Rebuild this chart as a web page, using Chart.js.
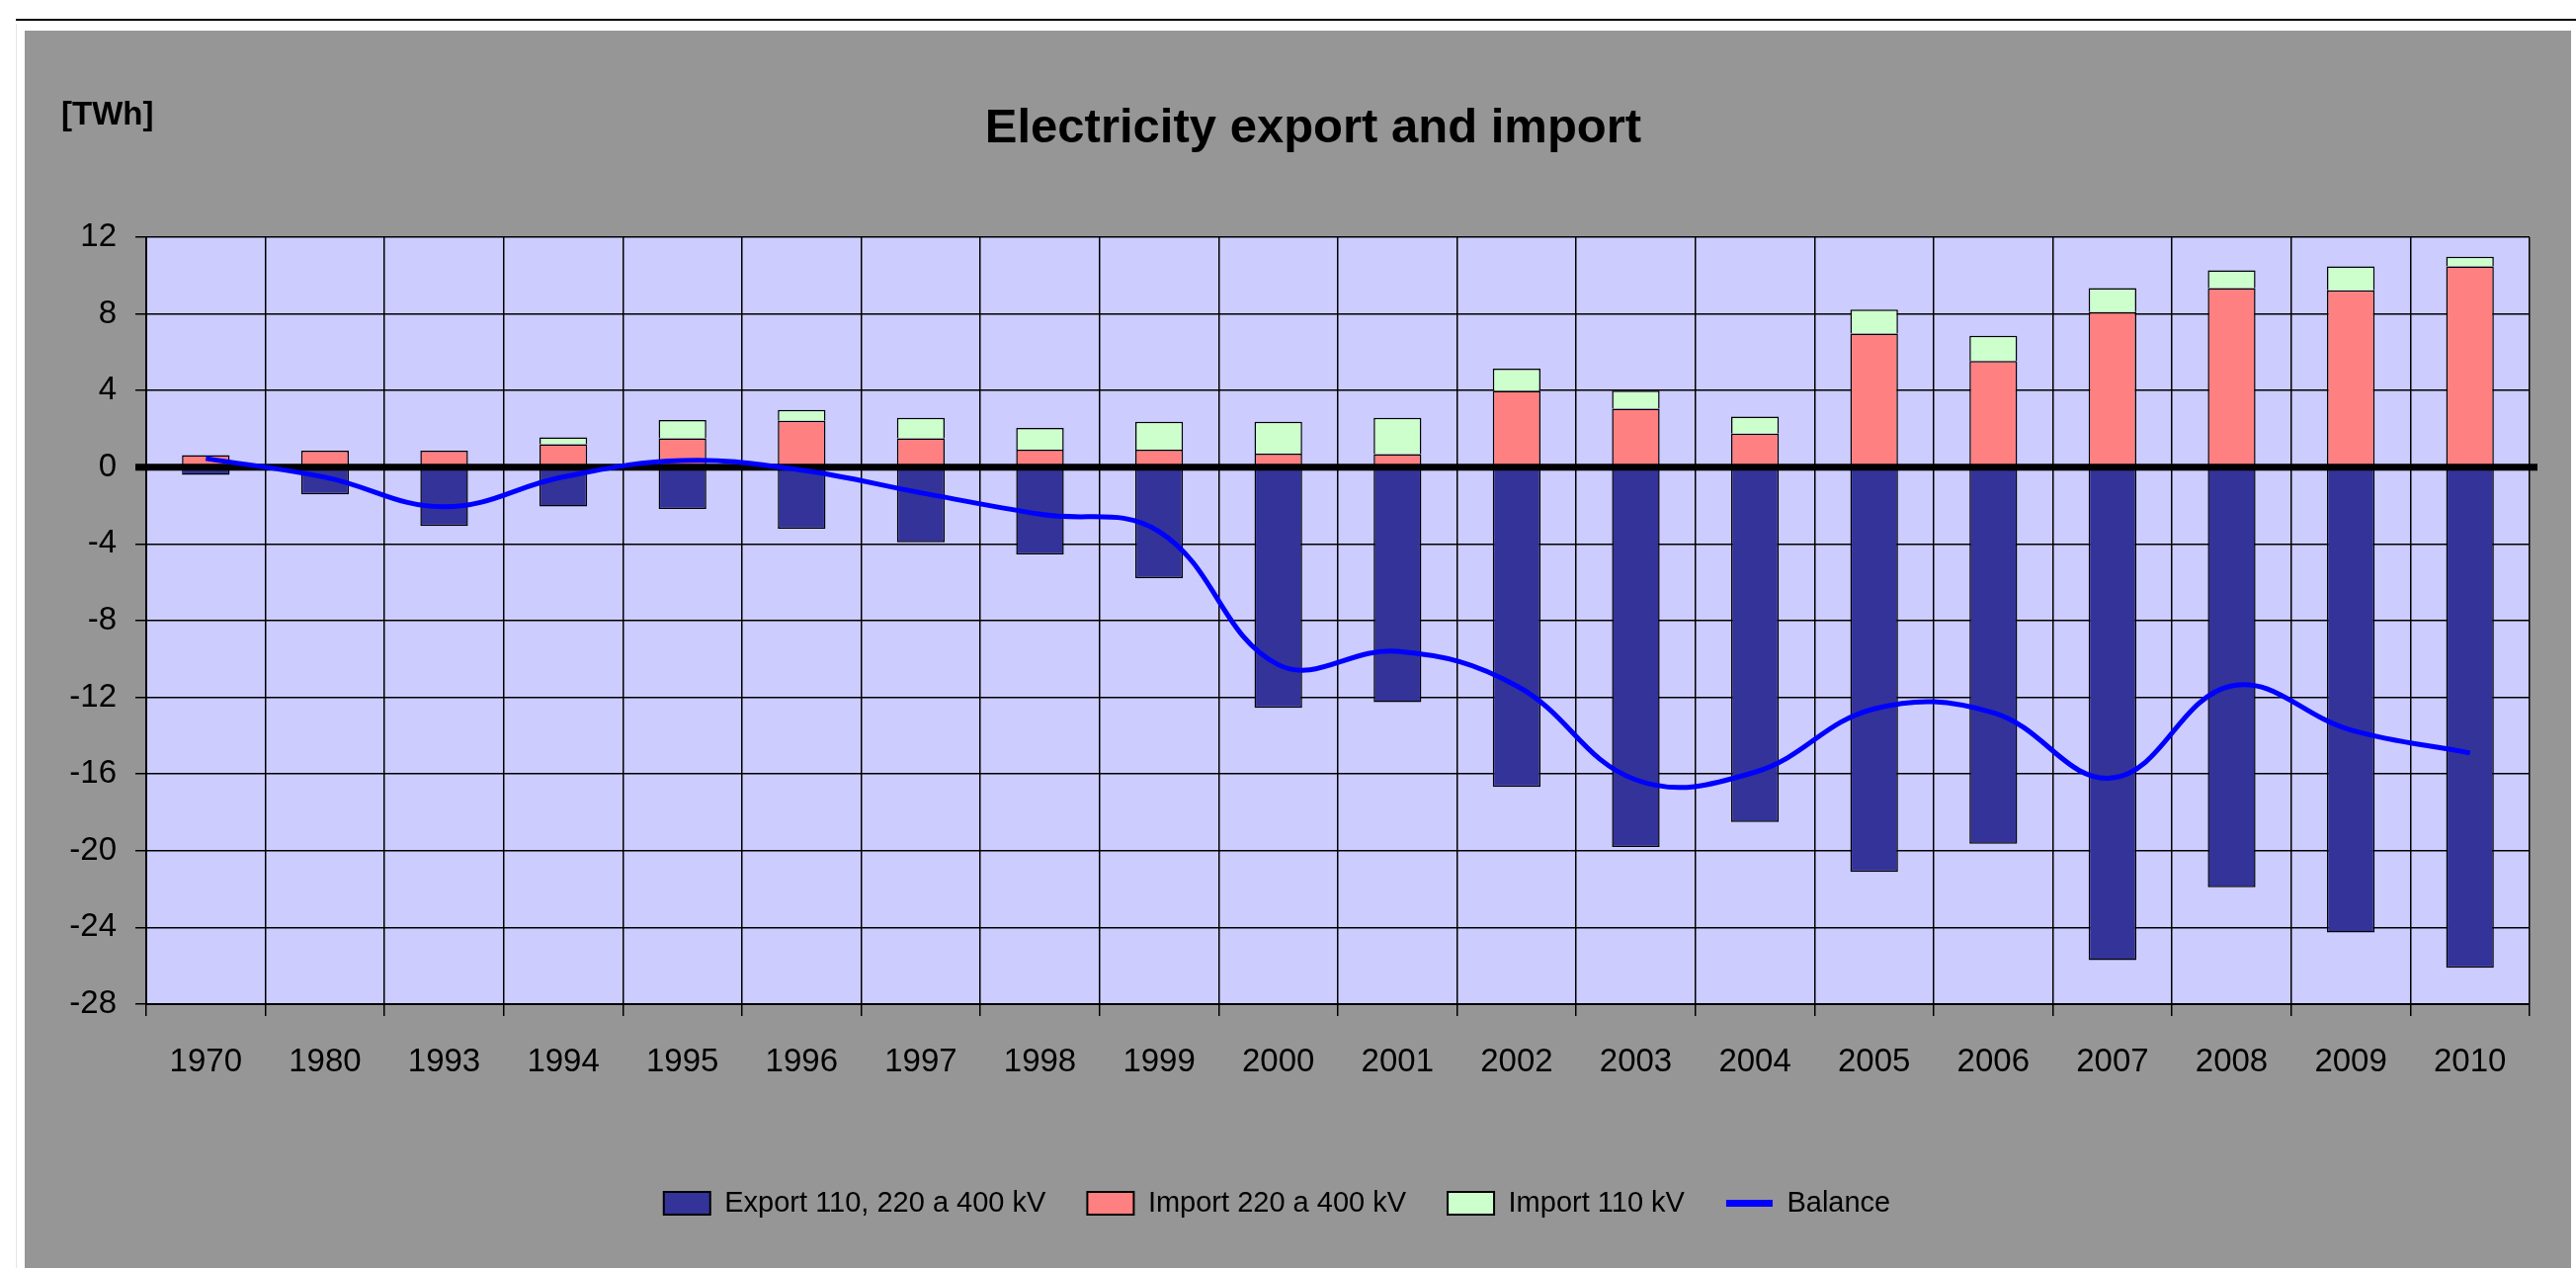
<!DOCTYPE html>
<html>
<head>
<meta charset="utf-8">
<title>Electricity export and import</title>
<script src="https://cdn.jsdelivr.net/npm/chart.js@4.4.0/dist/chart.umd.min.js"></script>
<style>
    body { margin: 0; background: #fff; width: 2607px; height: 1283px; overflow: hidden; position: relative; }
    .rule { position: absolute; left: 16px; right: 0; top: 19px; height: 2px; background: #000; }
    .edge { position: absolute; left: 16px; top: 24px; bottom: 0; width: 1px; background: #e4e4e4; }
    .box { position: absolute; left: 25px; top: 31px; width: 2577px; height: 1252px; background: #969696; }
</style>
</head>
<body>
<div class="rule"></div>
<div class="edge"></div>
<div class="box"><canvas id="chart"></canvas></div>
<script>
// data (TWh)
const years = ['1970', '1980', '1993', '1994', '1995', '1996', '1997', '1998', '1999', '2000',
    '2001', '2002', '2003', '2004', '2005', '2006', '2007', '2008', '2009', '2010'];
const exportVals = [-0.4, -1.42, -3.06, -2.05, -2.18, -3.2, -3.91, -4.54, -5.78, -12.55,
    -12.25, -16.67, -19.8, -18.5, -21.1, -19.64, -25.7, -21.9, -24.26, -26.1];
const import400 = [0.64, 0.86, 0.86, 1.2, 1.51, 2.43, 1.51, 0.92, 0.92, 0.71,
    0.69, 3.98, 3.06, 1.75, 6.98, 5.55, 8.1, 9.35, 9.23, 10.48];
const import110 = [0, 0, 0, 0.36, 0.96, 0.56, 1.07, 1.13, 1.46, 1.67,
    1.89, 1.16, 0.94, 0.89, 1.24, 1.31, 1.25, 0.92, 1.25, 0.5];
const balance = [0.46, -0.52, -2.06, -0.5, 0.35, -0.15, -1.33, -2.45, -3.35, -10.3,
    -9.6, -11.4, -16.3, -15.9, -12.6, -12.8, -16.2, -11.4, -13.7, -14.9];
const yTicks = [12, 8, 4, 0, -4, -8, -12, -16, -20, -24, -28];

const FONT = '"Liberation Sans", Arial, sans-serif';
Chart.defaults.font.family = FONT;
Chart.defaults.color = '#000';

// lavender plot area
const plotBackground = {
    id: 'plotBackground',
    beforeDraw(chart) {
        const {ctx, chartArea: a} = chart;
        ctx.save();
        ctx.fillStyle = '#CCCCFF';
        ctx.fillRect(a.left, a.top, a.right - a.left, a.bottom - a.top);
        ctx.restore();
    }
};

// thick zero axis over the bars, under the balance line
const zeroAxis = {
    id: 'zeroAxis',
    beforeDatasetDraw(chart, args) {
        if (args.meta.type !== 'line') return;
        const {ctx, chartArea: a} = chart;
        const y = chart.scales.y.getPixelForValue(0);
        ctx.save();
        ctx.strokeStyle = '#000';
        ctx.lineWidth = 7;
        ctx.beginPath();
        ctx.moveTo(a.left - 11, y);
        ctx.lineTo(a.right + 8, y);
        ctx.stroke();
        ctx.restore();
    }
};

// title and unit label (the title sits a bit right of the canvas centre)
const headings = {
    id: 'headings',
    afterDraw(chart) {
        const ctx = chart.ctx;
        ctx.save();
        ctx.fillStyle = '#000';
        ctx.textBaseline = 'middle';
        ctx.font = 'bold 33px ' + FONT;
        ctx.textAlign = 'left';
        ctx.fillText('[TWh]', 37, 86);
        ctx.font = 'bold 49px ' + FONT;
        ctx.textAlign = 'center';
        ctx.fillText('Electricity export and import', 1304, 99);
        ctx.restore();
    }
};

const barStyle = {
    type: 'bar',
    stack: 'flows',
    order: 1,
    borderColor: '#000',
    borderWidth: 1.5,
    barPercentage: 0.4,
    categoryPercentage: 1.0
};

new Chart(document.getElementById('chart'), {
    type: 'bar',
    data: {
        labels: years,
        datasets: [
            Object.assign({label: 'Export 110, 220 a 400 kV', data: exportVals, backgroundColor: '#333399'}, barStyle),
            Object.assign({label: 'Import 220 a 400 kV', data: import400, backgroundColor: '#FF8080'}, barStyle),
            Object.assign({label: 'Import 110 kV', data: import110, backgroundColor: '#CCFFCC'}, barStyle),
            {
                type: 'line',
                label: 'Balance',
                data: balance,
                stack: 'balance',
                order: 0,
                borderColor: '#0000FF',
                backgroundColor: '#0000FF',
                borderWidth: 5,
                tension: 0.4,
                pointRadius: 0,
                fill: false
            }
        ]
    },
    options: {
        responsive: true,
        maintainAspectRatio: false,
        animation: false,
        events: [],
        layout: {padding: {top: 209, left: 0, right: 42, bottom: 41}},
        scales: {
            x: {
                stacked: true,
                grid: {color: '#000', lineWidth: 1.5, tickLength: 12, offset: true},
                border: {color: '#000', width: 2},
                ticks: {font: {size: 33}, color: '#000', padding: 27, maxRotation: 0, autoSkip: false},
                afterFit(scale) { scale.height = 145; }
            },
            y: {
                stacked: true,
                min: -28,
                max: 12,
                grid: {color: '#000', lineWidth: 1.5, tickLength: 11},
                border: {color: '#000', width: 2},
                ticks: {font: {size: 33}, color: '#000', padding: 19},
                afterBuildTicks(scale) { scale.ticks = yTicks.map(v => ({value: v})); },
                afterFit(scale) { scale.width = 123; }
            }
        },
        plugins: {
            title: {display: false},
            legend: {
                position: 'bottom',
                labels: {
                    color: '#000',
                    font: {size: 29},
                    usePointStyle: true,
                    pointStyleWidth: 47,
                    boxHeight: 23,
                    padding: 42,
                    sort: (a, b) => a.datasetIndex - b.datasetIndex,
                    generateLabels(chart) {
                        const items = Chart.defaults.plugins.legend.labels.generateLabels(chart);
                        items.forEach(item => {
                            if (item.datasetIndex === 3) {
                                item.pointStyle = 'line';
                                item.lineWidth = 7;
                                item.strokeStyle = '#0000FF';
                            } else {
                                item.pointStyle = 'rect';
                                item.lineWidth = 2;
                                item.strokeStyle = '#000';
                            }
                        });
                        return items;
                    }
                }
            },
            tooltip: {enabled: false}
        }
    },
    plugins: [plotBackground, zeroAxis, headings]
});
</script>
</body>
</html>
